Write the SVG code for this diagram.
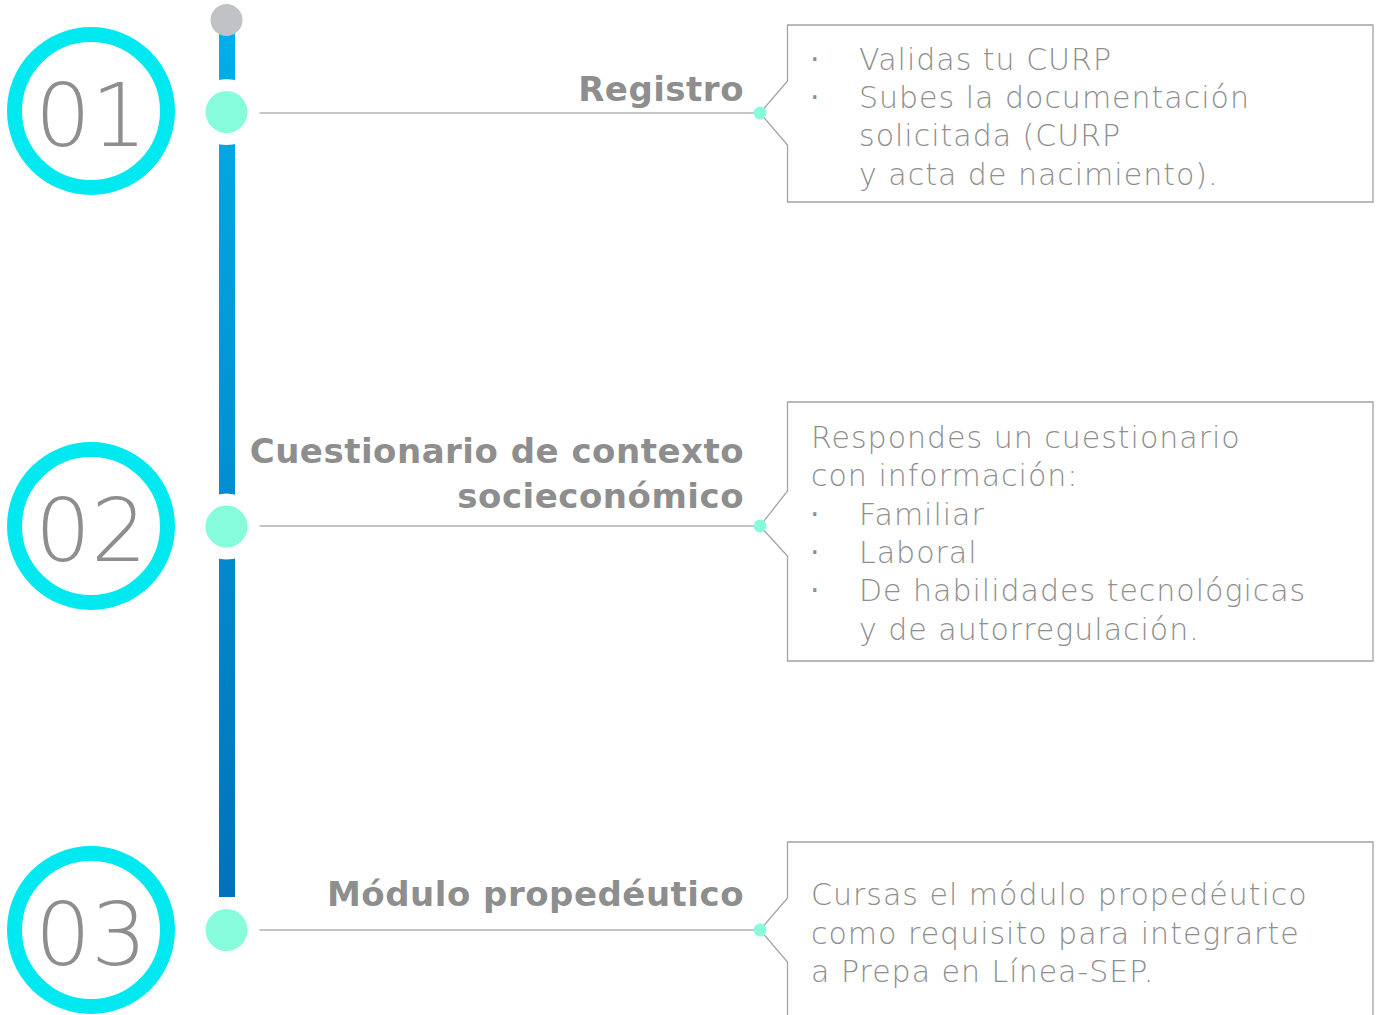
<svg xmlns="http://www.w3.org/2000/svg" width="1380" height="1015" viewBox="0 0 1380 1015">
<defs>
<linearGradient id="bar" x1="0" y1="0" x2="0" y2="1">
<stop offset="0" stop-color="#00b0ea"/>
<stop offset="1" stop-color="#0072ba"/>
</linearGradient>
</defs>
<style>
.ring{fill:none;stroke:#00e9f0;stroke-width:15}
.num{font-family:"DejaVu Sans","Liberation Sans",sans-serif;font-weight:200;font-size:88px;fill:#8e8e8e;text-anchor:middle}
.mint{fill:#86fcdc}
.gap{fill:#ffffff}
.title{font-family:"DejaVu Sans","Liberation Sans",sans-serif;font-weight:bold;font-size:34px;fill:#8e8e8e;text-anchor:end;letter-spacing:0.5px}
.body{font-family:"DejaVu Sans","Liberation Sans",sans-serif;font-weight:200;font-size:30px;fill:#8e8e8e;letter-spacing:1px}
.bullet{font-family:"DejaVu Sans","Liberation Sans",sans-serif;font-weight:normal;font-size:30px;fill:#8e8e8e}
.box{fill:none;stroke:#a3a3a3;stroke-width:1.3}
.conn{stroke:#b3b3b3;stroke-width:1.5;fill:none}
.dot{fill:#86fcdc}
</style>
<rect x="0" y="0" width="1380" height="1015" fill="#ffffff"/>
<g id="timeline">
<rect x="219" y="20" width="16" height="877" fill="url(#bar)"/>
<circle cx="226.5" cy="20" r="16" fill="#c1c2c6"/>
</g>
<g id="connectors">
<line class="conn" x1="259" y1="113" x2="760" y2="113"/>
<line class="conn" x1="259" y1="526" x2="760" y2="526"/>
<line class="conn" x1="259" y1="930" x2="760" y2="930"/>
</g>
<g id="node-01">
<circle class="ring" cx="91" cy="111" r="76.5"/>
<text class="num" x="91" y="146">01</text>
<circle class="gap" cx="226.5" cy="112" r="33"/>
<circle class="mint" cx="226.5" cy="112" r="21"/>
<text class="title" x="744" y="101">Registro</text>
<path class="box" d="M1373 25 H787.5 V81 L760 113 L787.5 145 V202 H1373 Z"/>
<circle class="dot" cx="760" cy="113" r="6.5"/>
<text class="bullet" x="810" y="70">·</text>
<text class="body" x="859" y="70">Validas tu CURP</text>
<text class="bullet" x="810" y="108">·</text>
<text class="body" x="859" y="108">Subes la documentación</text>
<text class="body" x="859" y="146">solicitada (CURP</text>
<text class="body" x="859" y="185">y acta de nacimiento).</text>
</g>
<g id="node-02">
<circle class="ring" cx="91" cy="526" r="76.5"/>
<text class="num" x="91" y="561">02</text>
<circle class="gap" cx="226.5" cy="526.5" r="33"/>
<circle class="mint" cx="226.5" cy="526.5" r="21"/>
<text class="title" x="744" y="463">Cuestionario de contexto</text>
<text class="title" x="744" y="508">socieconómico</text>
<path class="box" d="M1373 402 H787.5 V491 L760 526 L787.5 556 V661 H1373 Z"/>
<circle class="dot" cx="760" cy="526" r="6.5"/>
<text class="body" x="811" y="448">Respondes un cuestionario</text>
<text class="body" x="811" y="486">con información:</text>
<text class="bullet" x="810" y="525">·</text>
<text class="body" x="859" y="525">Familiar</text>
<text class="bullet" x="810" y="563">·</text>
<text class="body" x="859" y="563">Laboral</text>
<text class="bullet" x="810" y="601">·</text>
<text class="body" x="859" y="601">De habilidades tecnológicas</text>
<text class="body" x="859" y="640">y de autorregulación.</text>
</g>
<g id="node-03">
<circle class="ring" cx="91" cy="930" r="76.5"/>
<text class="num" x="91" y="965">03</text>
<circle class="gap" cx="226.5" cy="930" r="33"/>
<circle class="mint" cx="226.5" cy="930" r="21"/>
<text class="title" x="744" y="906">Módulo propedéutico</text>
<path class="box" d="M1373 1020 V842 H787.5 V898 L760 930 L787.5 962 V1020"/>
<circle class="dot" cx="760" cy="930" r="6.5"/>
<text class="body" x="811" y="905">Cursas el módulo propedéutico</text>
<text class="body" x="811" y="944">como requisito para integrarte</text>
<text class="body" x="811" y="982">a Prepa en Línea-SEP.</text>
</g>
</svg>
